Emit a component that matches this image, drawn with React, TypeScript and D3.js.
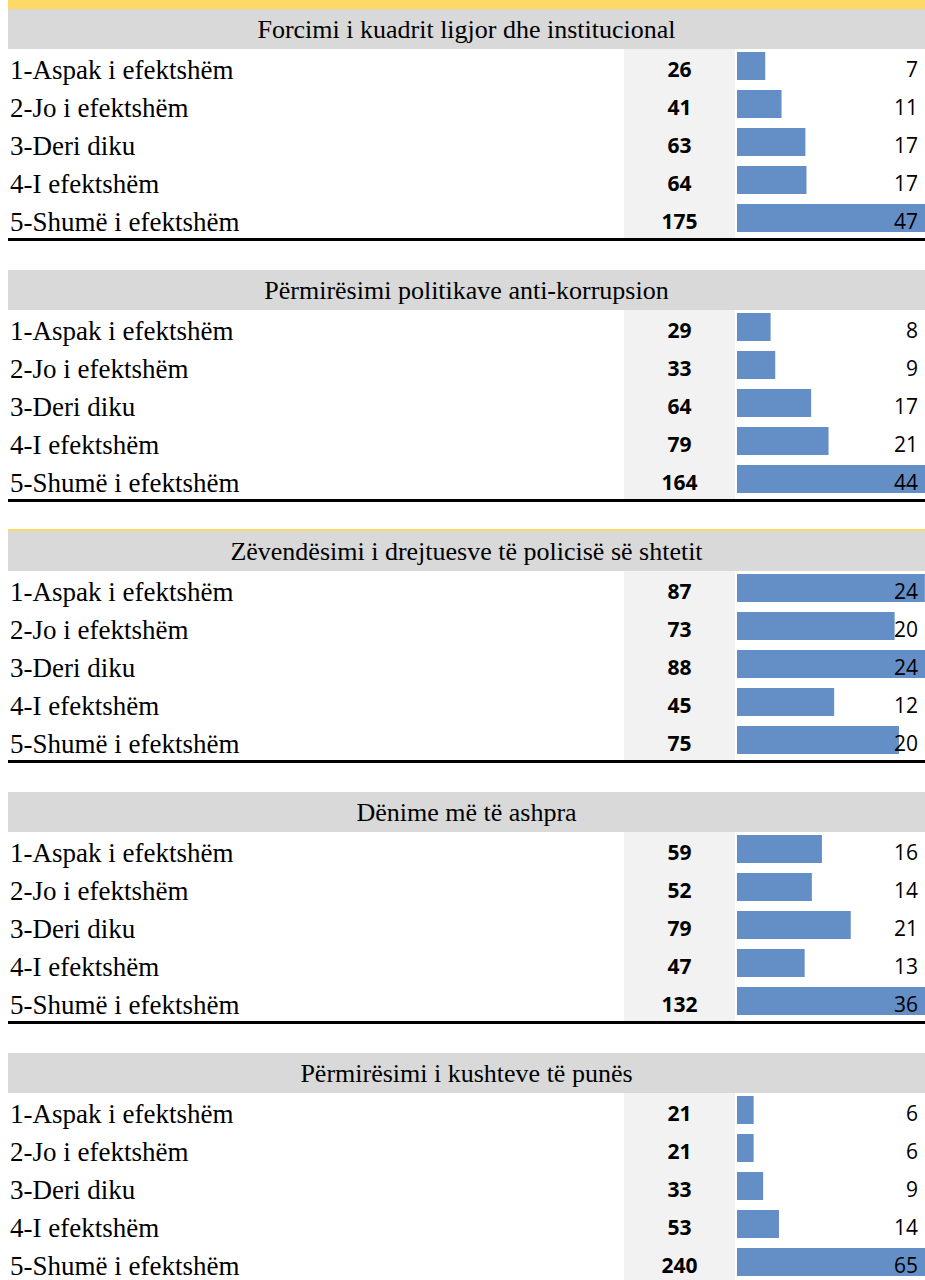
import React from "react";
import * as d3 from "d3";

const titles = [
  "Forcimi i kuadrit ligjor dhe institucional",
  "Përmirësimi politikave anti-korrupsion",
  "Zëvendësimi i drejtuesve të policisë së shtetit",
  "Dënime më të ashpra",
  "Përmirësimi i kushteve të punës",
];
const categories = [
  "1-Aspak i efektshëm",
  "2-Jo i efektshëm",
  "3-Deri diku",
  "4-I efektshëm",
  "5-Shumë i efektshëm",
];
const counts1 = [26, 41, 63, 64, 175];
const counts2 = [29, 33, 64, 79, 164];
const counts3 = [87, 73, 88, 45, 75];
const counts4 = [59, 52, 79, 47, 132];
const counts5 = [21, 21, 33, 53, 240];
const pct1 = [7, 11, 17, 17, 47];
const pct2 = [8, 9, 17, 21, 44];
const pct3 = [24, 20, 24, 12, 20];
const pct4 = [16, 14, 21, 13, 36];
const pct5 = [6, 6, 9, 14, 65];

const countsAll = [counts1, counts2, counts3, counts4, counts5];
const pctAll = [pct1, pct2, pct3, pct4, pct5];
const yellowTop = [false, false, true, false, false];

const W = 925;
const H = 1280;
const LEFT = 8;
const SECTION_PITCH = 261;
const FIRST_TOP = 9;
const HEADER_H = 40;
const ROW_H = 38;
const CELL_X0 = 624;
const CELL_X1 = 735;
const BAR_X = 737;
const BAR_MAX_W = 190;
const SERIF = "'Liberation Serif', 'Times New Roman', serif";
const SANS = "'Open Sans', 'Noto Sans', sans-serif";

export default function App() {
  return (
    <svg
      width={W}
      height={H}
      style={{ position: "absolute", left: 0, top: 0, overflow: "hidden", background: "#fff" }}
    >
      <rect x={LEFT} y={0} width={W - LEFT} height={FIRST_TOP} fill="#ffd966" />
      {titles.map((title, s) => {
        const top = FIRST_TOP + s * SECTION_PITCH;
        const counts = countsAll[s];
        const pcts = pctAll[s];
        const x = d3.scaleLinear().domain([0, d3.max(counts) as number]).range([0, BAR_MAX_W]);
        const y = d3
          .scaleBand<number>()
          .domain(d3.range(categories.length))
          .range([top + HEADER_H, top + HEADER_H + ROW_H * categories.length]);
        const bottom = top + HEADER_H + ROW_H * categories.length;
        return (
          <g key={s}>
            {yellowTop[s] && <rect x={LEFT} y={top - 2} width={W - LEFT} height={2} fill="#ffd966" />}
            <rect x={LEFT} y={top} width={W - LEFT} height={HEADER_H} fill="#d9d9d9" />
            <text
              x={(LEFT + W) / 2}
              y={top + 29}
              textAnchor="middle"
              fontFamily={SERIF}
              fontSize={26}
              fill="#000"
            >
              {title}
            </text>
            <rect
              x={CELL_X0}
              y={top + HEADER_H}
              width={CELL_X1 - CELL_X0}
              height={ROW_H * categories.length}
              fill="#f2f2f2"
            />
            {categories.map((c, i) => {
              const ry = y(i) as number;
              return (
                <g key={i}>
                  <rect x={BAR_X} y={ry + 3} width={x(counts[i])} height={28} fill="#638ec6" />
                  <text x={10} y={ry + 30} fontFamily={SERIF} fontSize={27} fill="#000">
                    {c}
                  </text>
                  <text
                    x={(CELL_X0 + CELL_X1) / 2}
                    y={ry + 28}
                    textAnchor="middle"
                    fontFamily={SANS}
                    fontWeight="bold"
                    fontSize={21}
                    fill="#000"
                  >
                    {counts[i]}
                  </text>
                  <text
                    x={918}
                    y={ry + 28}
                    textAnchor="end"
                    fontFamily={SANS}
                    fontSize={21}
                    fill="#000"
                  >
                    {pcts[i]}
                  </text>
                </g>
              );
            })}
            {s < titles.length - 1 && (
              <rect x={LEFT} y={bottom - 1} width={W - LEFT} height={3} fill="#000" />
            )}
          </g>
        );
      })}
    </svg>
  );
}
